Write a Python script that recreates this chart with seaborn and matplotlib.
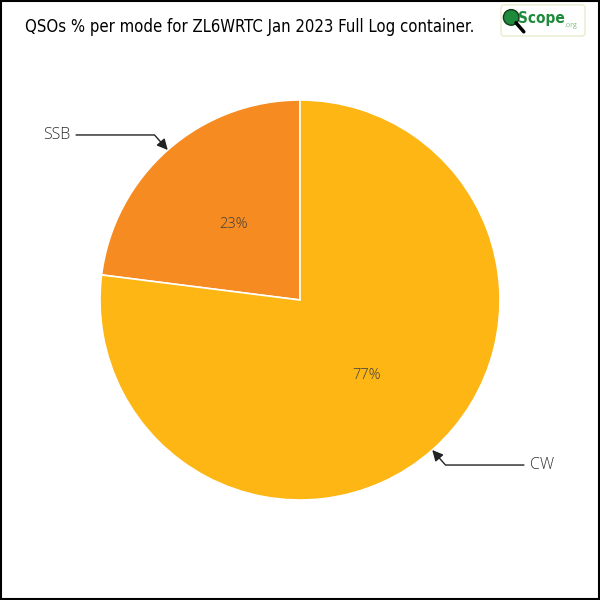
import numpy as np
import matplotlib
matplotlib.use('Agg')
import matplotlib.pyplot as plt
from matplotlib.patches import Rectangle, FancyBboxPatch, Circle
import seaborn as sns

# data
modes = ['SSB', 'CW']
shares = [23, 77]
mode_colors = ['#F68B21', '#FDB614']
title = 'QSOs % per mode for ZL6WRTC Jan 2023 Full Log container.'

sns.set_theme(style='white')
plt.rcParams['font.family'] = ['Open Sans', 'DejaVu Sans']

fig = plt.figure(figsize=(6, 6), dpi=100)
ax = fig.add_axes([0, 0, 1, 1])

wedges, texts, autotexts = ax.pie(
    shares, colors=sns.color_palette(mode_colors), startangle=90,
    counterclock=True, autopct='%1.0f%%', pctdistance=0.5,
    wedgeprops=dict(edgecolor='white', linewidth=1.2),
    textprops=dict(color='#3f3f3f', fontsize=10.5, fontweight='light'))
ax.set_xlim(-1.5, 1.5)
ax.set_ylim(-1.5, 1.5)
ax.set_aspect('equal')
ax.axis('off')

# outside labels with elbow arrows
for w, name in zip(wedges, modes):
    mid = np.deg2rad((w.theta1 + w.theta2) / 2)
    x, y = np.cos(mid), np.sin(mid)
    side = np.sign(x)
    ax.annotate(name, xy=(x, y), xytext=(1.15 * side, 1.1 * y),
                ha='left' if side > 0 else 'right', va='center',
                fontsize=11.5, fontweight='light', color='#2f2f2f',
                arrowprops=dict(arrowstyle='-|>', color='#222222', lw=1.0,
                                mutation_scale=16, shrinkA=2, shrinkB=0,
                                connectionstyle='angle,angleA=0,angleB=%.1f'
                                % np.rad2deg(mid)))

fig.text(0.042, 0.955, title, fontsize=12, family=['DejaVu Sans'],
         color='black', va='center', ha='left', stretch='condensed')

# logo
fig.patches.append(FancyBboxPatch((0.835, 0.94), 0.14, 0.052,
                                  boxstyle='round,pad=0,rounding_size=0.005',
                                  transform=fig.transFigure, facecolor='white',
                                  edgecolor='#e8eccc', lw=1))
fig.patches.append(Circle((0.852, 0.971), 0.013, transform=fig.transFigure,
                          facecolor='#1f8a3c', edgecolor='#0d3d1a', lw=1))
fig.lines.append(plt.Line2D([0.86, 0.873], [0.962, 0.947], color='black',
                            lw=2.5, transform=fig.transFigure))
fig.text(0.864, 0.969, 'Scope', fontsize=11, color='#1f8a3c',
         fontweight='bold', va='center', ha='left', family=['DejaVu Sans'],
         stretch='condensed')
fig.text(0.94, 0.958, '.org', fontsize=5, color='#7bbf7b', va='center',
         ha='left')

# frame
fig.patches.append(Rectangle((0.001, 0.001), 0.997, 0.997,
                             transform=fig.transFigure, fill=False,
                             edgecolor='black', lw=1.5))

fig.savefig('out.png', dpi=100, facecolor='white')
